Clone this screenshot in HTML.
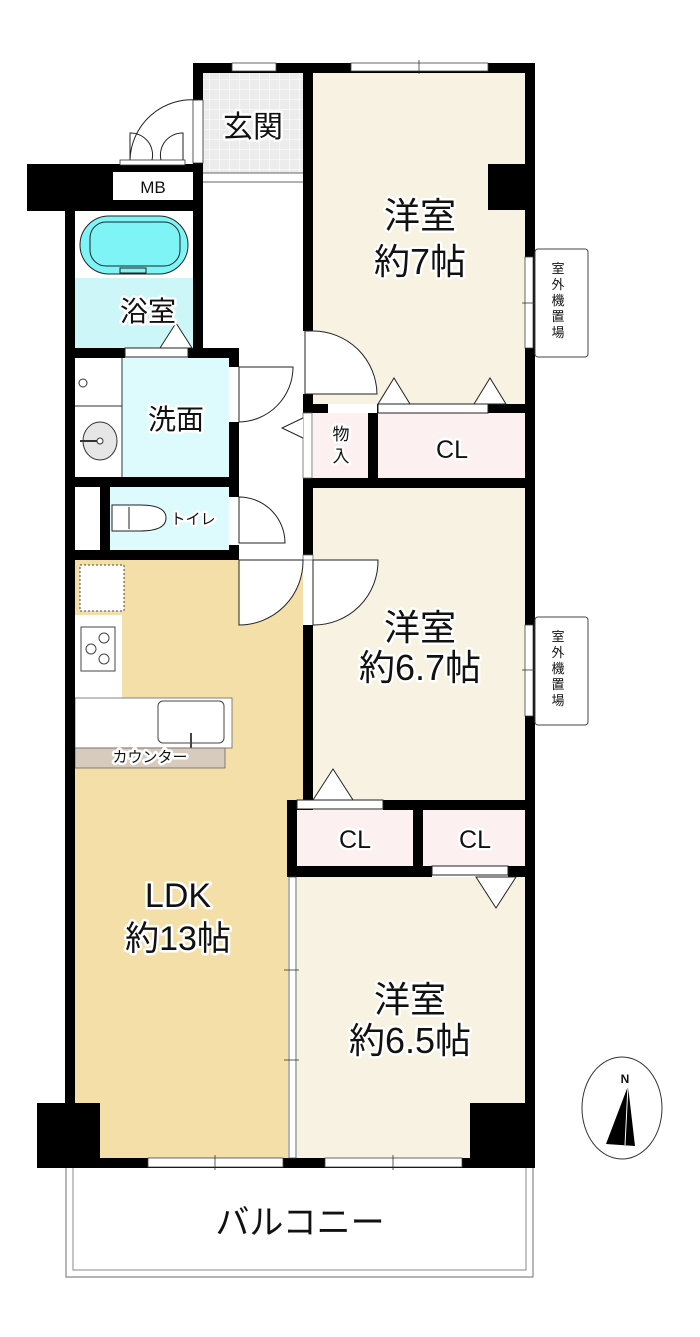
<!DOCTYPE html>
<html><head><meta charset="utf-8"><style>
html,body{margin:0;padding:0;background:#fff;}
svg{display:block}
text{font-family:"Liberation Sans","Noto Sans CJK JP",sans-serif;fill:#111}
.h{stroke:#fff;stroke-width:5;paint-order:stroke;stroke-linejoin:round}
</style></head><body>
<svg width="700" height="1337" viewBox="0 0 700 1337" xmlns="http://www.w3.org/2000/svg">
<defs>
<pattern id="tile" width="10" height="10" patternUnits="userSpaceOnUse">
<rect width="10" height="10" fill="#ececec"/><path d="M10 0V10H0" fill="none" stroke="#fff" stroke-width="1"/>
</pattern>
</defs>
<rect x="313" y="73" width="212" height="331" fill="#f8f2e2"/>
<rect x="313" y="488" width="212" height="312" fill="#f8f2e2"/>
<rect x="297" y="877" width="228" height="283" fill="#f8f2e2"/>
<rect x="203" y="73" width="100" height="100" fill="url(#tile)"/>
<rect x="75" y="560" width="228" height="240" fill="#f5dfa8"/>
<rect x="75" y="800" width="213" height="360" fill="#f5dfa8"/>
<rect x="313" y="413" width="55" height="65" fill="#fdf0f0"/>
<rect x="378" y="413" width="147" height="65" fill="#fdf0f0"/>
<rect x="297" y="810" width="116" height="56" fill="#fdf0f0"/>
<rect x="423" y="810" width="102" height="56" fill="#fdf0f0"/>
<rect x="75" y="211" width="118" height="67" fill="#fff"/>
<rect x="75" y="278" width="118" height="70" fill="#cdf6f8"/>
<rect x="122" y="358" width="107" height="119" fill="#ddfbfc"/>
<rect x="110" y="487" width="119" height="63" fill="#ddfbfc"/>
<rect x="80" y="216" width="108" height="58" rx="29" fill="#7ff4f6" stroke="#222" stroke-width="1"/>
<rect x="90" y="222" width="90" height="44" rx="16" fill="none" stroke="#222" stroke-width="1"/>
<rect x="120" y="268" width="26" height="5" fill="#7ff4f6" stroke="#222" stroke-width="1"/>
<line x1="75" y1="406" x2="122" y2="406" stroke="#333"/>
<line x1="122" y1="358" x2="122" y2="477" stroke="#333"/>
<circle cx="83" cy="383" r="4" fill="none" stroke="#333"/>
<ellipse cx="100" cy="441" rx="17" ry="19" fill="#e6e6e6" stroke="#333"/>
<circle cx="100" cy="441" r="3" fill="#fff" stroke="#333"/>
<line x1="80" y1="441" x2="97" y2="441" stroke="#333" stroke-width="2"/>
<path d="M112 505 H140 Q166 505 166 518 Q166 531 140 531 H112 Z" fill="#fff" stroke="#222"/>
<line x1="129" y1="507" x2="129" y2="529" stroke="#222"/>
<rect x="75" y="487" width="25" height="63" fill="#fff"/>
<rect x="75" y="615" width="47" height="83" fill="#fff"/>
<rect x="75" y="698" width="157" height="50" fill="#fff" stroke="#666" stroke-width="0.8"/>
<rect x="80" y="565" width="44" height="46" fill="#fff" stroke="#444" stroke-dasharray="2,2"/>
<rect x="81" y="627" width="34" height="44" fill="#fff" stroke="#444"/>
<circle cx="104" cy="638" r="5" fill="none" stroke="#444"/><circle cx="91" cy="649" r="5" fill="none" stroke="#444"/><circle cx="104" cy="659" r="5" fill="none" stroke="#444"/>
<rect x="158" y="701" width="66" height="42" rx="5" fill="#fff" stroke="#444"/>
<line x1="191" y1="733" x2="191" y2="748" stroke="#444" stroke-width="2"/>
<rect x="75" y="748" width="150" height="20" fill="#d7cbbd" stroke="#666" stroke-width="0.8"/>
<g fill="#000">
<rect x="193" y="63" width="342" height="10"/>
<rect x="525" y="63" width="10" height="1105"/>
<rect x="193" y="63" width="10" height="37"/>
<rect x="193" y="163" width="10" height="195"/>
<rect x="27" y="164" width="86" height="47"/>
<rect x="113" y="164" width="80" height="8"/>
<rect x="113" y="200" width="80" height="11"/>
<rect x="65" y="200" width="10" height="968"/>
<rect x="303" y="63" width="10" height="268"/>
<rect x="75" y="348" width="50" height="10"/>
<rect x="188" y="348" width="51" height="10"/>
<rect x="229" y="348" width="10" height="19"/>
<rect x="229" y="422" width="10" height="75"/>
<rect x="229" y="545" width="10" height="15"/>
<rect x="65" y="477" width="174" height="10"/>
<rect x="100" y="487" width="10" height="63"/>
<rect x="65" y="550" width="174" height="10"/>
<rect x="303" y="394" width="10" height="10"/>
<rect x="303" y="404" width="25" height="9"/>
<rect x="377" y="404" width="10" height="9"/>
<rect x="488" y="404" width="37" height="9"/>
<rect x="368" y="413" width="10" height="65"/>
<rect x="303" y="478" width="222" height="10"/>
<rect x="303" y="488" width="10" height="67"/>
<rect x="303" y="625" width="10" height="175"/>
<rect x="287" y="800" width="26" height="10"/>
<rect x="383" y="800" width="142" height="10"/>
<rect x="287" y="800" width="10" height="77"/>
<rect x="413" y="810" width="10" height="56"/>
<rect x="287" y="866" width="145" height="11"/>
<rect x="508" y="866" width="17" height="11"/>
<rect x="488" y="164" width="37" height="46"/>
<rect x="37" y="1103" width="63" height="65"/>
<rect x="470" y="1103" width="65" height="65"/>
<rect x="65" y="1158" width="470" height="10"/>
</g>
<rect x="303" y="413" width="9" height="65" fill="#fff" stroke="#666" stroke-width="0.8"/>
<rect x="303" y="555" width="10" height="5" fill="#fff" stroke="#666" stroke-width="0.8"/>
<rect x="113" y="172" width="80" height="28" fill="#fff"/>
<text x="153" y="193" font-size="17" text-anchor="middle">MB</text>
<rect x="193" y="100" width="10" height="63" fill="#fff" stroke="#333" stroke-width="0.8"/>
<rect x="120" y="160" width="65" height="5" fill="#fff" stroke="#333" stroke-width="0.8"/>
<path d="M198 100 A62 62 0 0 0 130 160" fill="none" stroke="#222"/>
<path d="M130 160 V133 A22 22 0 0 1 152 160" fill="none" stroke="#222"/>
<path d="M183 160 V133 A22 22 0 0 0 161 160" fill="none" stroke="#222"/>
<line x1="203" y1="173" x2="303" y2="173" stroke="#666"/>
<line x1="203" y1="182" x2="303" y2="182" stroke="#666"/>
<g fill="#fff" stroke="#444" stroke-width="0.8">
<rect x="232" y="63" width="44" height="8"/>
<rect x="351" y="63" width="137" height="8"/>
<rect x="148" y="1158" width="135" height="9"/>
<rect x="325" y="1158" width="137" height="9"/>
<rect x="525" y="257" width="8" height="91"/>
<rect x="525" y="625" width="8" height="91"/>
<rect x="289" y="877" width="7" height="281"/>
</g>
<g stroke="#333" stroke-width="0.8">
<line x1="419" y1="60" x2="419" y2="74"/><line x1="215" y1="1155" x2="215" y2="1170"/><line x1="393" y1="1155" x2="393" y2="1170"/>
<line x1="522" y1="303" x2="536" y2="303"/><line x1="522" y1="670" x2="536" y2="670"/>
<line x1="284" y1="970" x2="299" y2="970"/><line x1="284" y1="1060" x2="299" y2="1060"/>
</g>
<rect x="535" y="249" width="53" height="108" rx="3" fill="#fff" stroke="#444"/>
<rect x="535" y="617" width="53" height="108" rx="3" fill="#fff" stroke="#444"/>
<g font-size="13" text-anchor="middle">
<text x="558" y="273">室</text><text x="558" y="289">外</text><text x="558" y="305">機</text><text x="558" y="321">置</text><text x="558" y="337">場</text>
<text x="558" y="641">室</text><text x="558" y="657">外</text><text x="558" y="673">機</text><text x="558" y="689">置</text><text x="558" y="705">場</text>
</g>
<g fill="#fff" stroke="#222" stroke-width="1">
<path d="M313 331 A64 64 0 0 1 377 394 H305 V331 Z"/>
<path d="M239 367 H293 A55 55 0 0 1 239 422 Z"/>
<path d="M239 497 A46 46 0 0 1 285 543 H239 Z"/>
<path d="M239 560 H303 A64 64 0 0 1 239 625 Z"/>
<path d="M313 560 H378 A64 64 0 0 1 313 625 Z"/>
<path d="M303 418 L282 428 L303 438"/>
</g>
<g fill="#fff" stroke="#222" stroke-width="1">
<rect x="378" y="404" width="110" height="9"/>
<path d="M378 404 L394 378 L410 404 Z"/>
<path d="M474 404 L490 378 L506 404 Z"/>
<rect x="297" y="800" width="86" height="9"/>
<path d="M313 800 L333 769 L353 800 Z"/>
<rect x="432" y="866" width="76" height="9"/>
<path d="M476 877 L496 908 L516 877 Z"/>
<rect x="125" y="348" width="63" height="9"/>
<path d="M160 348 L176 323 L192 348 Z"/>
</g>
<path d="M66 1168 V1277 H533 V1168" fill="none" stroke="#888" stroke-width="1.2"/>
<path d="M73 1168 V1270 H526 V1168" fill="none" stroke="#888" stroke-width="1"/>
<ellipse cx="622" cy="1108" rx="40" ry="51" fill="#fff" stroke="#333"/>
<path d="M628 1086 L606 1144 L635 1146 Z" fill="#000"/>
<path d="M628 1086 L625 1145" stroke="#fff" stroke-width="1"/>
<text x="625" y="1083" font-size="12" font-weight="bold" text-anchor="middle" font-family="Liberation Serif,serif">N</text>
<g text-anchor="middle">
<text class="h" x="253" y="137" font-size="30">玄関</text>
<text class="h" x="420" y="228" font-size="36">洋室</text>
<text class="h" x="420" y="274" font-size="36">約7帖</text>
<text class="h" x="148" y="321" font-size="28">浴室</text>
<text class="h" x="176" y="429" font-size="28">洗面</text>
<text class="h" x="193" y="524" font-size="15">トイレ</text>
<text class="h" x="341" y="440" font-size="17">物</text>
<text class="h" x="341" y="462" font-size="17">入</text>
<text class="h" x="452" y="458" font-size="25">CL</text>
<text class="h" x="420" y="640" font-size="36">洋室</text>
<text class="h" x="420" y="680" font-size="36">約6.7帖</text>
<text class="h" x="150" y="762" font-size="15">カウンター</text>
<text class="h" x="355" y="848" font-size="25">CL</text>
<text class="h" x="475" y="848" font-size="25">CL</text>
<text class="h" x="178" y="907" font-size="34">LDK</text>
<text class="h" x="178" y="950" font-size="34">約13帖</text>
<text class="h" x="410" y="1012" font-size="36">洋室</text>
<text class="h" x="410" y="1053" font-size="36">約6.5帖</text>
<text class="h" x="300" y="1234" font-size="34">バルコニー</text>
</g>
</svg>
</body></html>
